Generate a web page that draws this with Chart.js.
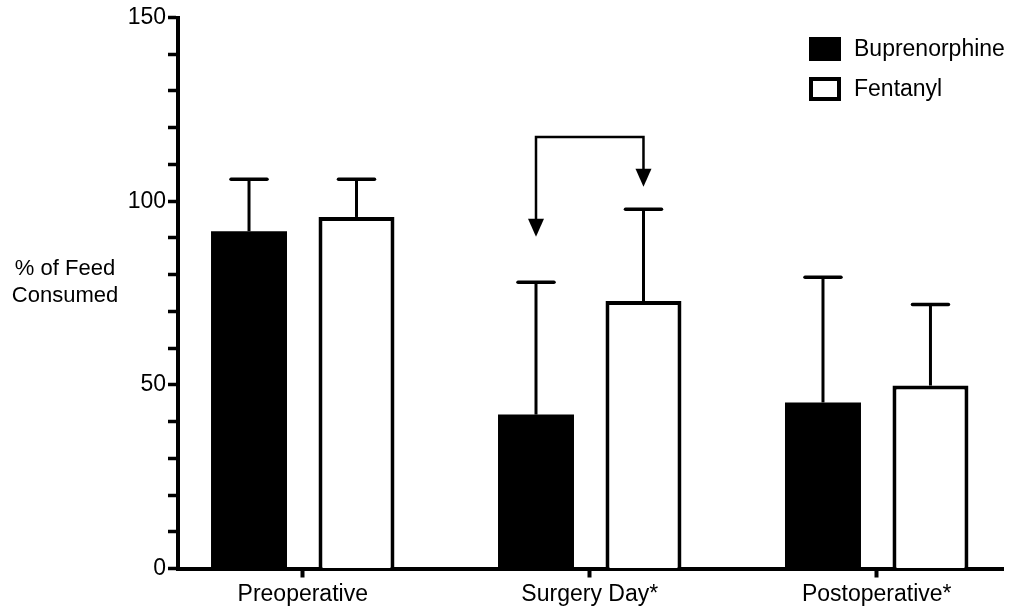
<!DOCTYPE html>
<html>
<head>
<meta charset="utf-8">
<script src="https://cdn.jsdelivr.net/npm/chart.js@4.4.1/dist/chart.umd.min.js"></script>
<style>
  html, body { margin: 0; padding: 0; background: #ffffff; }
  #wrap { width: 1011px; height: 611px; position: relative; }
</style>
</head>
<body>
<div id="wrap"><canvas id="c" width="1011" height="611"></canvas></div>
<script>
// ---- data ----
const categories = ["Preoperative", "Surgery Day*", "Postoperative*"];
const seriesNames = ["Buprenorphine", "Fentanyl"];
const bupMean = [91.8, 41.9, 45.2];
const bupSD = [14.2, 36.0, 34.1];
const fentMean = [95.7, 72.8, 49.8];
const fentSD = [10.3, 25.0, 22.1];
const yTickLabels = [0, 50, 100, 150];
// bracket comparing Surgery Day groups: [top level, left tip level, right tip level]
const arrowLevels = [117.5, 90.3, 103.9];
const arrowCategory = 1;

const FONT = '"Liberation Sans", Arial, Helvetica, sans-serif';
const FS = 23;

const errorBarPlugin = {
  id: 'errorBars',
  afterDatasetsDraw(chart) {
    const ctx = chart.ctx;
    const y = chart.scales.y;
    const sds = [bupSD, fentSD];
    const means = [bupMean, fentMean];
    ctx.save();
    ctx.strokeStyle = '#000';
    chart.data.datasets.forEach((ds, di) => {
      const meta = chart.getDatasetMeta(di);
      meta.data.forEach((bar, i) => {
        const top = y.getPixelForValue(means[di][i] + sds[di][i]);
        ctx.lineWidth = 3;
        ctx.lineCap = 'butt';
        ctx.beginPath();
        ctx.moveTo(bar.x, bar.y);
        ctx.lineTo(bar.x, top);
        ctx.stroke();
        ctx.lineWidth = 3.5;
        ctx.lineCap = 'round';
        ctx.beginPath();
        ctx.moveTo(bar.x - 18, top);
        ctx.lineTo(bar.x + 18, top);
        ctx.stroke();
      });
    });
    // bracket with arrows
    const xl = chart.getDatasetMeta(0).data[arrowCategory].x;
    const xr = chart.getDatasetMeta(1).data[arrowCategory].x;
    const yt = y.getPixelForValue(arrowLevels[0]);
    const yl = y.getPixelForValue(arrowLevels[1]);
    const yr = y.getPixelForValue(arrowLevels[2]);
    const hh = 18, hw = 8;
    ctx.lineWidth = 2.5;
    ctx.lineCap = 'butt';
    ctx.lineJoin = 'miter';
    ctx.beginPath();
    ctx.moveTo(xl, yl - hh + 1);
    ctx.lineTo(xl, yt);
    ctx.lineTo(xr, yt);
    ctx.lineTo(xr, yr - hh + 1);
    ctx.stroke();
    ctx.fillStyle = '#000';
    [[xl, yl], [xr, yr]].forEach(([px, py]) => {
      ctx.beginPath();
      ctx.moveTo(px - hw, py - hh);
      ctx.lineTo(px + hw, py - hh);
      ctx.lineTo(px, py);
      ctx.closePath();
      ctx.fill();
    });
    ctx.restore();
  }
};

const textPlugin = {
  id: 'texts',
  afterDraw(chart) {
    const ctx = chart.ctx;
    ctx.save();
    ctx.fillStyle = '#000';
    ctx.font = '22px ' + FONT;
    // y axis title, horizontal two lines
    ctx.textAlign = 'center';
    ctx.textBaseline = 'alphabetic';
    ctx.fillText('% of Feed', 65, 275);
    ctx.fillText('Consumed', 65, 302);
    // legend
    const lx = 809, bw = 32, bh = 24;
    const rows = [37, 77];
    ctx.font = FS + 'px ' + FONT;
    ctx.textAlign = 'left';
    ctx.textBaseline = 'middle';
    chart.data.datasets.forEach((ds, i) => {
      const ty = rows[i];
      ctx.fillStyle = '#000';
      ctx.fillRect(lx, ty, bw, bh);
      if (i === 1) {
        ctx.fillStyle = '#fff';
        ctx.fillRect(lx + 4, ty + 4, bw - 8, bh - 8);
      }
      ctx.fillStyle = '#000';
      ctx.fillText(ds.label, 854, ty + bh / 2 + 1);
    });
    ctx.restore();
  }
};

new Chart(document.getElementById('c'), {
  type: 'bar',
  data: {
    datasets: [
      {
        label: seriesNames[0],
        data: bupMean.map((v, i) => ({ x: i, y: v })),
        backgroundColor: '#000000',
        borderWidth: 0
      },
      {
        label: seriesNames[1],
        data: fentMean.map((v, i) => ({ x: i, y: v })),
        backgroundColor: '#ffffff',
        borderColor: '#000000',
        borderWidth: 4,
        borderSkipped: 'start'
      }
    ]
  },
  options: {
    responsive: false,
    animation: false,
    devicePixelRatio: 1,
    categoryPercentage: 0.749,
    barPercentage: 0.707,
    layout: { padding: { left: 0, right: 8, top: 17.5, bottom: 0 } },
    plugins: { legend: { display: false }, tooltip: { enabled: false } },
    scales: {
      x: {
        type: 'linear',
        offset: false,
        min: -0.4347,
        max: 2.44,
        afterBuildTicks(scale) {
          scale.ticks = categories.map((c, i) => ({ value: i }));
        },
        afterFit(scale) { scale.height = 42.5; },
        ticks: {
          autoSkip: false,
          maxRotation: 0,
          padding: 3,
          color: '#000',
          font: { family: FONT, size: FS },
          callback: (v) => categories[v]
        },
        grid: {
          offset: false,
          drawOnChartArea: false,
          drawTicks: true,
          tickLength: 9,
          tickWidth: 4,
          tickColor: '#000'
        },
        border: { display: true, color: '#000', width: 4 }
      },
      y: {
        min: 0,
        max: 150,
        afterFit(scale) { scale.width = 178; },
        ticks: {
          stepSize: 10,
          autoSkip: false,
          padding: 2,
          color: '#000',
          font: { family: FONT, size: FS },
          callback: (v) => (yTickLabels.includes(v) ? String(v) : '')
        },
        grid: {
          drawOnChartArea: false,
          drawTicks: true,
          tickLength: 10,
          tickWidth: 3.5,
          tickColor: '#000'
        },
        border: { display: true, color: '#000', width: 4 }
      }
    }
  },
  plugins: [errorBarPlugin, textPlugin]
});
</script>
</body>
</html>
